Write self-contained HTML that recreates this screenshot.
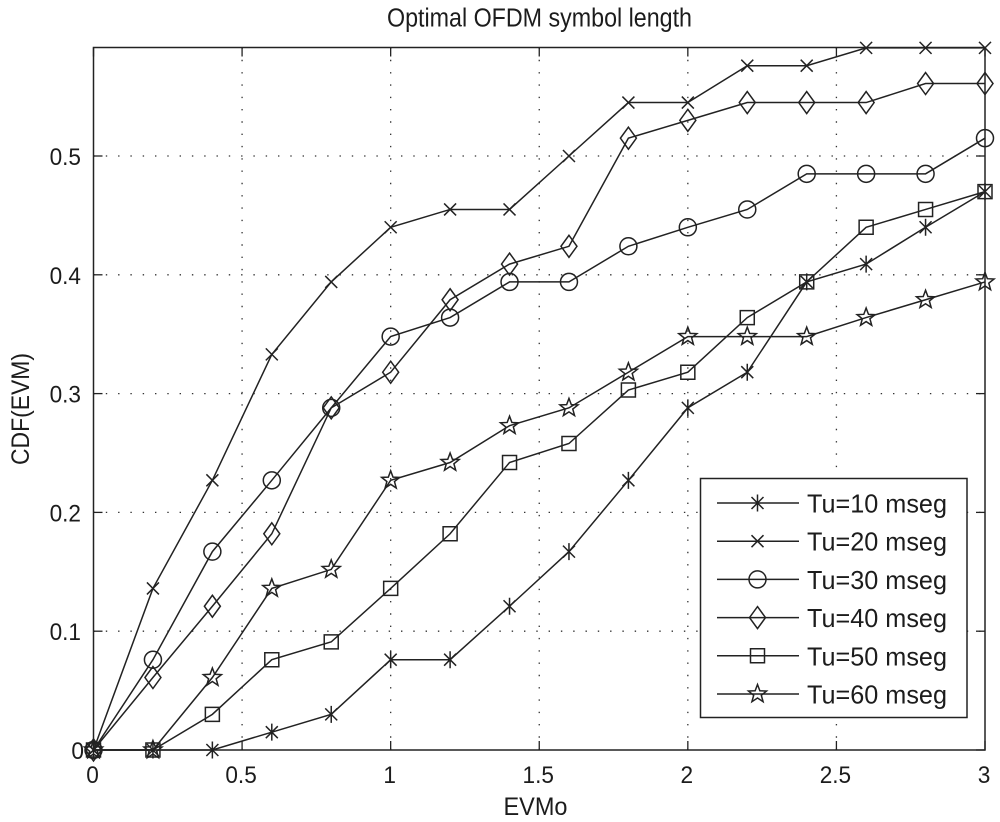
<!DOCTYPE html>
<html>
<head>
<meta charset="utf-8">
<title>Optimal OFDM symbol length</title>
<style>
  html, body { margin: 0; padding: 0; background: #fff; }
  svg { display: block; }
  text { font-family: "Liberation Sans", sans-serif; fill: #1c1c1c; font-size: 24px; }
</style>
</head>
<body>
<svg id="chart" width="1000" height="822" viewBox="0 0 1000 822" xmlns="http://www.w3.org/2000/svg">
  <text x="387" y="26.5" textLength="305" lengthAdjust="spacingAndGlyphs" style="font-size:25.5px">Optimal OFDM symbol length</text>
  <text x="503.5" y="815" textLength="64" lengthAdjust="spacingAndGlyphs" style="font-size:25px">EVMo</text>
  <text x="0" y="0" textLength="112" lengthAdjust="spacingAndGlyphs" style="font-size:25px" transform="translate(29 465) rotate(-90)">CDF(EVM)</text>
</svg>
<script>
const xValues = [0, 0.2, 0.4, 0.6, 0.8, 1.0, 1.2, 1.4, 1.6, 1.8, 2.0, 2.2, 2.4, 2.6, 2.8, 3.0];
const tu10 = [0, 0, 0, 0.015, 0.03, 0.076, 0.076, 0.121, 0.167, 0.227, 0.288, 0.318, 0.394, 0.409, 0.44, 0.47];
const tu20 = [0, 0.136, 0.227, 0.333, 0.394, 0.44, 0.455, 0.455, 0.5, 0.545, 0.545, 0.576, 0.576, 0.591, 0.591, 0.591];
const tu30 = [0, 0.076, 0.167, 0.227, 0.288, 0.348, 0.364, 0.394, 0.394, 0.424, 0.44, 0.455, 0.485, 0.485, 0.485, 0.515];
const tu40 = [0, 0.061, 0.121, 0.182, 0.288, 0.318, 0.379, 0.409, 0.424, 0.515, 0.53, 0.545, 0.545, 0.545, 0.561, 0.561];
const tu50 = [0, 0, 0.03, 0.076, 0.091, 0.136, 0.182, 0.242, 0.258, 0.303, 0.318, 0.364, 0.394, 0.44, 0.455, 0.47];
const tu60 = [0, 0, 0.061, 0.136, 0.152, 0.227, 0.242, 0.273, 0.288, 0.318, 0.348, 0.348, 0.348, 0.364, 0.379, 0.394];
const seriesNames = ["Tu=10 mseg", "Tu=20 mseg", "Tu=30 mseg", "Tu=40 mseg", "Tu=50 mseg", "Tu=60 mseg"];
const seriesKeys = ["tu-10", "tu-20", "tu-30", "tu-40", "tu-50", "tu-60"];
const seriesMarkers = ["asterisk", "cross", "circle", "diamond", "square", "star"];
const xTicks = [0, 0.5, 1, 1.5, 2, 2.5, 3];
const yTicks = [0, 0.1, 0.2, 0.3, 0.4, 0.5];
const xTickLabels = ["0", "0.5", "1", "1.5", "2", "2.5", "3"];
const yTickLabels = ["0", "0.1", "0.2", "0.3", "0.4", "0.5"];
const allSeries = [tu10, tu20, tu30, tu40, tu50, tu60];

const NS = "http://www.w3.org/2000/svg";
const svg = document.getElementById("chart");
const INK = "#222";
const left = 93.5, right = 985, bottom = 750, top_ = 47.5;
const xScale = v => left + (v / 3) * (right - left);
const yScale = v => bottom - (v / 0.5) * 594;

function make(tag, attrs, parent) {
  const el = document.createElementNS(NS, tag);
  for (const k in attrs) el.setAttribute(k, attrs[k]);
  (parent || svg).appendChild(el);
  return el;
}

function condense(el, factor) {
  el.setAttribute("textLength", (el.getComputedTextLength() * factor).toFixed(1));
  el.setAttribute("lengthAdjust", "spacingAndGlyphs");
}

function markerPath(type, cx, cy) {
  const pts = (arr) => arr.map((p, i) => (i ? "L" : "M") + (cx + p[0]).toFixed(2) + " " + (cy + p[1]).toFixed(2)).join("") + "Z";
  if (type === "asterisk") {
    const a = 8.5, b = 6;
    return `M${cx} ${cy - a}V${cy + a}M${cx - b} ${cy - b}L${cx + b} ${cy + b}M${cx - b} ${cy + b}L${cx + b} ${cy - b}`;
  }
  if (type === "cross") {
    const c = 6;
    return `M${cx - c} ${cy - c}L${cx + c} ${cy + c}M${cx - c} ${cy + c}L${cx + c} ${cy - c}`;
  }
  if (type === "circle") {
    const r = 8.5;
    return `M${cx - r} ${cy}A${r} ${r} 0 1 0 ${cx + r} ${cy}A${r} ${r} 0 1 0 ${cx - r} ${cy}Z`;
  }
  if (type === "diamond") return pts([[0, -11], [8, 0], [0, 11], [-8, 0]]);
  if (type === "square") return pts([[-7, -7], [7, -7], [7, 7], [-7, 7]]);
  const star = [];
  for (let i = 0; i < 10; i++) {
    const rad = i % 2 ? 4 : 9.5;
    const ang = -Math.PI / 2 + i * Math.PI / 5;
    star.push([rad * Math.cos(ang), rad * Math.sin(ang)]);
  }
  return pts(star);
}

const gridGroup = make("g", {stroke: "#333", "stroke-width": 1.3, "stroke-dasharray": "1.4 10.9", fill: "none"});


xTicks.slice(1, -1).forEach(t => {
  const g = make("line", {x1: xScale(t), x2: xScale(t), y1: bottom, y2: top_}, gridGroup);
  
  
});
yTicks.slice(1).forEach(t => {
  const g = make("line", {x1: left, x2: right, y1: yScale(t), y2: yScale(t)}, gridGroup);
  
  
});

const axesBox = make("rect", {x: left, y: top_, width: right - left, height: bottom - top_, fill: "none", stroke: INK, "stroke-width": 1.5});



xTicks.forEach((t, i) => {
  const x = xScale(t);
  const m1 = make("line", {x1: x, x2: x, y1: bottom, y2: bottom - 9, stroke: INK, "stroke-width": 1.3});
  
  
  const m2 = make("line", {x1: x, x2: x, y1: top_, y2: top_ + 9, stroke: INK, "stroke-width": 1.3});
  
  
  const label = make("text", {x: x - 1, y: 783, "text-anchor": "middle"});
  label.textContent = xTickLabels[i];
  
  
  condense(label, 0.94);
});
yTicks.forEach((t, i) => {
  const y = yScale(t);
  const m1 = make("line", {x1: left, x2: left + 9, y1: y, y2: y, stroke: INK, "stroke-width": 1.3});
  
  
  const m2 = make("line", {x1: right, x2: right - 9, y1: y, y2: y, stroke: INK, "stroke-width": 1.3});
  
  
  const label = make("text", {x: t === 0 ? 84 : 81, y: y + 9, "text-anchor": "end"});
  label.textContent = yTickLabels[i];
  
  
  condense(label, 0.94);
});

allSeries.forEach((vals, s) => {
  const group = make("g", {fill: "none", stroke: INK, "stroke-width": 1.5, "stroke-linejoin": "miter"});
  
  
  const line = make("polyline", {points: vals.map((v, i) => xScale(xValues[i]).toFixed(2) + "," + yScale(v).toFixed(2)).join(" ")}, group);
  
  
  vals.forEach((v, i) => {
    const pt = make("path", {d: markerPath(seriesMarkers[s], xScale(xValues[i]), yScale(v))}, group);
    
    
  });
});

const legend = make("g", {});


const legendBox = make("rect", {x: 700.5, y: 478.5, width: 266.5, height: 239, fill: "#fff", stroke: INK, "stroke-width": 1.5}, legend);


seriesNames.forEach((name, i) => {
  const y = 503 + i * 38.2;
  const entry = make("g", {fill: "none", stroke: INK, "stroke-width": 1.5}, legend);
  
  
  const ln = make("line", {x1: 717, x2: 799, y1: y, y2: y}, entry);
  
  
  const mk = make("path", {d: markerPath(seriesMarkers[i], 757.5, y)}, entry);
  
  
  const tx = make("text", {x: 807, y: y + 9.5, stroke: "none", textLength: 140, lengthAdjust: "spacingAndGlyphs", style: "font-size:26px"}, entry);
  tx.textContent = name;
  
  
});
</script>
</body>
</html>
